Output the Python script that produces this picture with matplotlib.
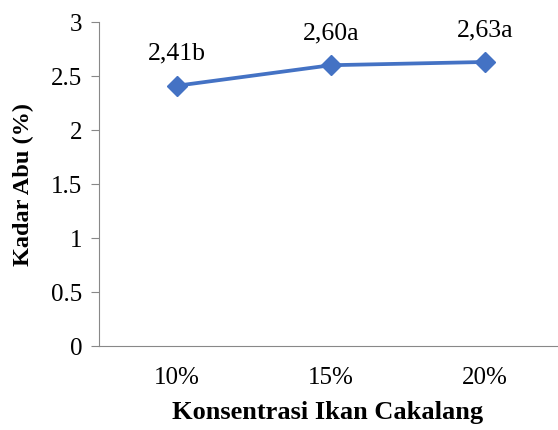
import matplotlib
matplotlib.use('Agg')
import matplotlib.pyplot as plt

# Kadar abu per konsentrasi ikan cakalang
konsentrasi = ['10%', '15%', '20%']
kadar_abu = [2.41, 2.60, 2.63]
notasi = ['2,41b', '2,60a', '2,63a']

plt.rcParams['font.family'] = 'Liberation Serif'

fig = plt.figure(figsize=(5.58, 4.30), dpi=100)
ax = fig.add_axes([0.1774, 0.1953, 0.8206, 0.7535])

x = range(len(konsentrasi))
ax.plot(x, kadar_abu, color='#4472C4', linewidth=2.7, marker='D', markersize=10)

# Nilai dan notasi di atas titik
for i, (v, t) in enumerate(zip(kadar_abu, notasi)):
    ax.annotate(t, (i, v), xytext=(0, 23), textcoords='offset points',
                ha='center', va='center', fontsize=18.5)

ax.set_xlim(-0.506, 2.468)
ax.set_ylim(0, 3)
ax.set_yticks([0, 0.5, 1, 1.5, 2, 2.5, 3])
ax.set_yticklabels(['0', '0.5', '1', '1.5', '2', '2.5', '3'])
ax.set_xticks(list(x))
ax.set_xticklabels(konsentrasi)

for s in ['top', 'right']:
    ax.spines[s].set_visible(False)
ax.spines['left'].set_color('#888888')
ax.spines['bottom'].set_color('#888888')
ax.tick_params(axis='y', length=6, color='#888888', labelsize=18, pad=6)
ax.tick_params(axis='x', length=0, labelsize=18, pad=15)

ax.set_xlabel('Konsentrasi Ikan Cakalang', fontsize=19, fontweight='bold', labelpad=9)
ax.set_ylabel('Kadar Abu (%)', fontsize=17.5, fontweight='bold', labelpad=12)

fig.savefig('out.png', dpi=100)
